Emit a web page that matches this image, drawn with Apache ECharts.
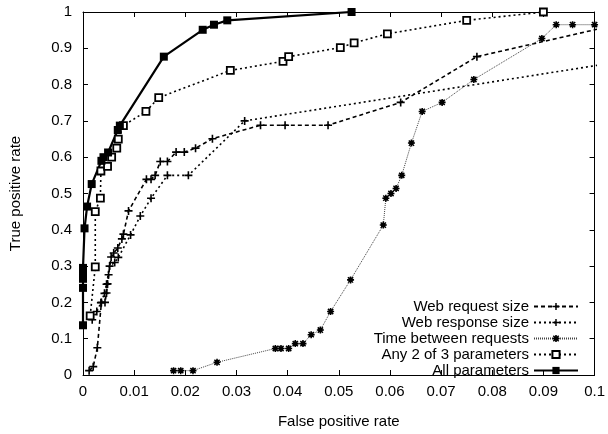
<!DOCTYPE html>
<html>
<head>
<meta charset="utf-8">
<script src="https://cdn.jsdelivr.net/npm/echarts@6/dist/echarts.min.js"></script>
<style>
  html, body { margin: 0; padding: 0; background: #fff; }
  #main { width: 608px; height: 434px; }
</style>
</head>
<body>
<div id="main"></div>
<script>
// tick labels
const xTickLabels = ['0', '0.01', '0.02', '0.03', '0.04', '0.05', '0.06', '0.07', '0.08', '0.09', '0.1'];
const yTickLabels = ['0', '0.1', '0.2', '0.3', '0.4', '0.5', '0.6', '0.7', '0.8', '0.9', '1'];

const seriesNames = ['Web request size', 'Web response size', 'Time between requests', 'Any 2 of 3 parameters', 'All parameters'];

// [false positive rate, true positive rate]
const webRequest = [
  [0.0012, 0.012], [0.002, 0.023], [0.0028, 0.075], [0.0036, 0.2], [0.0043, 0.2],
  [0.0046, 0.226], [0.0048, 0.251], [0.005, 0.276], [0.0055, 0.325], [0.006, 0.336],
  [0.0068, 0.35], [0.0076, 0.375], [0.0079, 0.388], [0.0089, 0.452], [0.0124, 0.539],
  [0.0133, 0.539], [0.0141, 0.55], [0.0151, 0.588], [0.0165, 0.588], [0.0182, 0.614],
  [0.0198, 0.614], [0.022, 0.625], [0.0253, 0.651], [0.0347, 0.688], [0.0395, 0.688],
  [0.0479, 0.688], [0.0621, 0.751], [0.077, 0.877], [0.105, 0.967]
];
const webResponse = [
  [0.0018, 0.152], [0.0027, 0.175], [0.0035, 0.199], [0.0042, 0.225], [0.0046, 0.25],
  [0.0052, 0.3], [0.0062, 0.31], [0.0069, 0.324], [0.0093, 0.386], [0.0112, 0.438],
  [0.0133, 0.487], [0.0165, 0.55], [0.0206, 0.55], [0.0316, 0.70], [0.105, 0.863]
];
const timeBetween = [
  [0.0177, 0.012], [0.0191, 0.012], [0.0215, 0.012], [0.0262, 0.035], [0.0376, 0.073],
  [0.0387, 0.073], [0.0402, 0.073], [0.0415, 0.0865], [0.043, 0.0865], [0.0446, 0.111],
  [0.0464, 0.124], [0.0484, 0.175], [0.0523, 0.262], [0.0587, 0.413], [0.0592, 0.487],
  [0.0602, 0.50], [0.0612, 0.514], [0.0623, 0.55], [0.0642, 0.639], [0.0663, 0.726],
  [0.0702, 0.751], [0.0764, 0.814], [0.0897, 0.927], [0.0925, 0.965], [0.0957, 0.965],
  [0.1, 0.965]
];
const anyTwo = [
  [0.0014, 0.163], [0.0024, 0.298], [0.0024, 0.45], [0.0034, 0.487], [0.0035, 0.562],
  [0.0048, 0.575], [0.0056, 0.60], [0.0066, 0.625], [0.0069, 0.65], [0.0079, 0.687],
  [0.0123, 0.726], [0.0148, 0.764], [0.0288, 0.839], [0.0391, 0.864], [0.0402, 0.877],
  [0.0503, 0.902], [0.053, 0.915], [0.0595, 0.94], [0.075, 0.977], [0.090, 1.0]
];
const allParams = [
  [0, 0.137], [0, 0.24], [0, 0.265], [0, 0.28], [0, 0.295], [0.0003, 0.404],
  [0.0008, 0.464], [0.0017, 0.526], [0.0036, 0.59], [0.004, 0.60], [0.0049, 0.613],
  [0.0068, 0.675], [0.0072, 0.687], [0.0158, 0.877], [0.0234, 0.951], [0.0256, 0.965],
  [0.0282, 0.977], [0.0525, 1.0]
];

const FONT = "'Liberation Sans', Arial, Helvetica, sans-serif";
const plus = 'path://M-0.8,-4H0.8V-0.8H4V0.8H0.8V4H-0.8V0.8H-4V-0.8H-0.8Z';
// asterisk drawn as a dark blob like gnuplot's point type 3
const star = 'path://M-2.6,-2.6H2.6V2.6H-2.6Z' +
  'M-0.9,-4H0.9V4H-0.9Z M-4,-0.9H4V0.9H-4Z' +
  'M-3.6,-2.4L-2.4,-3.6L3.6,2.4L2.4,3.6Z M2.4,-3.6L3.6,-2.4L-2.4,3.6L-3.6,2.4Z';

const chart = echarts.init(document.getElementById('main'));

const axisCommon = {
  type: 'value',
  axisLine: { show: true, onZero: false, lineStyle: { color: '#000', width: 1 } },
  axisTick: { show: true, inside: true, length: 5, lineStyle: { color: '#000', width: 1 } },
  splitLine: { show: false }
};

function lineSeries(name, data, lineStyle, symbol, size, itemStyle) {
  return {
    name: name,
    type: 'line',
    data: data,
    clip: true,
    symbol: symbol,
    symbolSize: size,
    showAllSymbol: true,
    animation: false,
    lineStyle: Object.assign({ color: '#000' }, lineStyle),
    itemStyle: Object.assign({ color: '#000' }, itemStyle || {}),
    emphasis: { disabled: true }
  };
}

chart.setOption({
  backgroundColor: '#fff',
  animation: false,
  grid: { left: 82, right: 10, top: 12, bottom: 52, containLabel: false },
  legend: {
    orient: 'vertical',
    align: 'right',
    right: 29,
    top: 299,
    padding: 0,
    itemWidth: 44,
    itemHeight: 9,
    itemGap: 1,
    textStyle: { fontFamily: FONT, fontSize: 15, color: '#000', lineHeight: 14 },
    data: seriesNames
  },
  xAxis: [
    Object.assign({}, axisCommon, {
      min: 0, max: 0.1, interval: 0.01, position: 'bottom',
      name: 'False positive rate', nameLocation: 'middle', nameGap: 39,
      nameTextStyle: { fontFamily: FONT, fontSize: 15, color: '#000' },
      axisLabel: {
        margin: 9, fontFamily: FONT, fontSize: 15, color: '#000',
        formatter: v => xTickLabels[Math.round(v / 0.01)]
      }
    }),
    Object.assign({}, axisCommon, {
      min: 0, max: 0.1, interval: 0.01, position: 'top',
      axisLabel: { show: false }
    })
  ],
  yAxis: [
    Object.assign({}, axisCommon, {
      min: 0, max: 1, interval: 0.1, position: 'left',
      name: 'True positive rate', nameLocation: 'middle', nameGap: 60, nameRotate: 90,
      nameTextStyle: { fontFamily: FONT, fontSize: 15, color: '#000' },
      axisLabel: {
        margin: 11, fontFamily: FONT, fontSize: 15, color: '#000',
        formatter: v => yTickLabels[Math.round(v / 0.1)]
      }
    }),
    Object.assign({}, axisCommon, {
      min: 0, max: 1, interval: 0.1, position: 'right',
      axisLabel: { show: false }
    })
  ],
  series: [
    lineSeries(seriesNames[0], webRequest, { width: 1.6, type: [4, 3] }, plus, 8),
    lineSeries(seriesNames[1], webResponse, { width: 1.6, type: [2, 3] }, plus, 8),
    lineSeries(seriesNames[2], timeBetween, { width: 1, type: [1, 1], color: '#444' }, star, 7),
    lineSeries(seriesNames[3], anyTwo, { width: 1.6, type: [2, 3] }, 'rect', 7,
      { color: '#fff', borderColor: '#000', borderWidth: 1.8 }),
    lineSeries(seriesNames[4], allParams, { width: 2.2, type: 'solid' }, 'rect', 8)
  ]
});
</script>
</body>
</html>
